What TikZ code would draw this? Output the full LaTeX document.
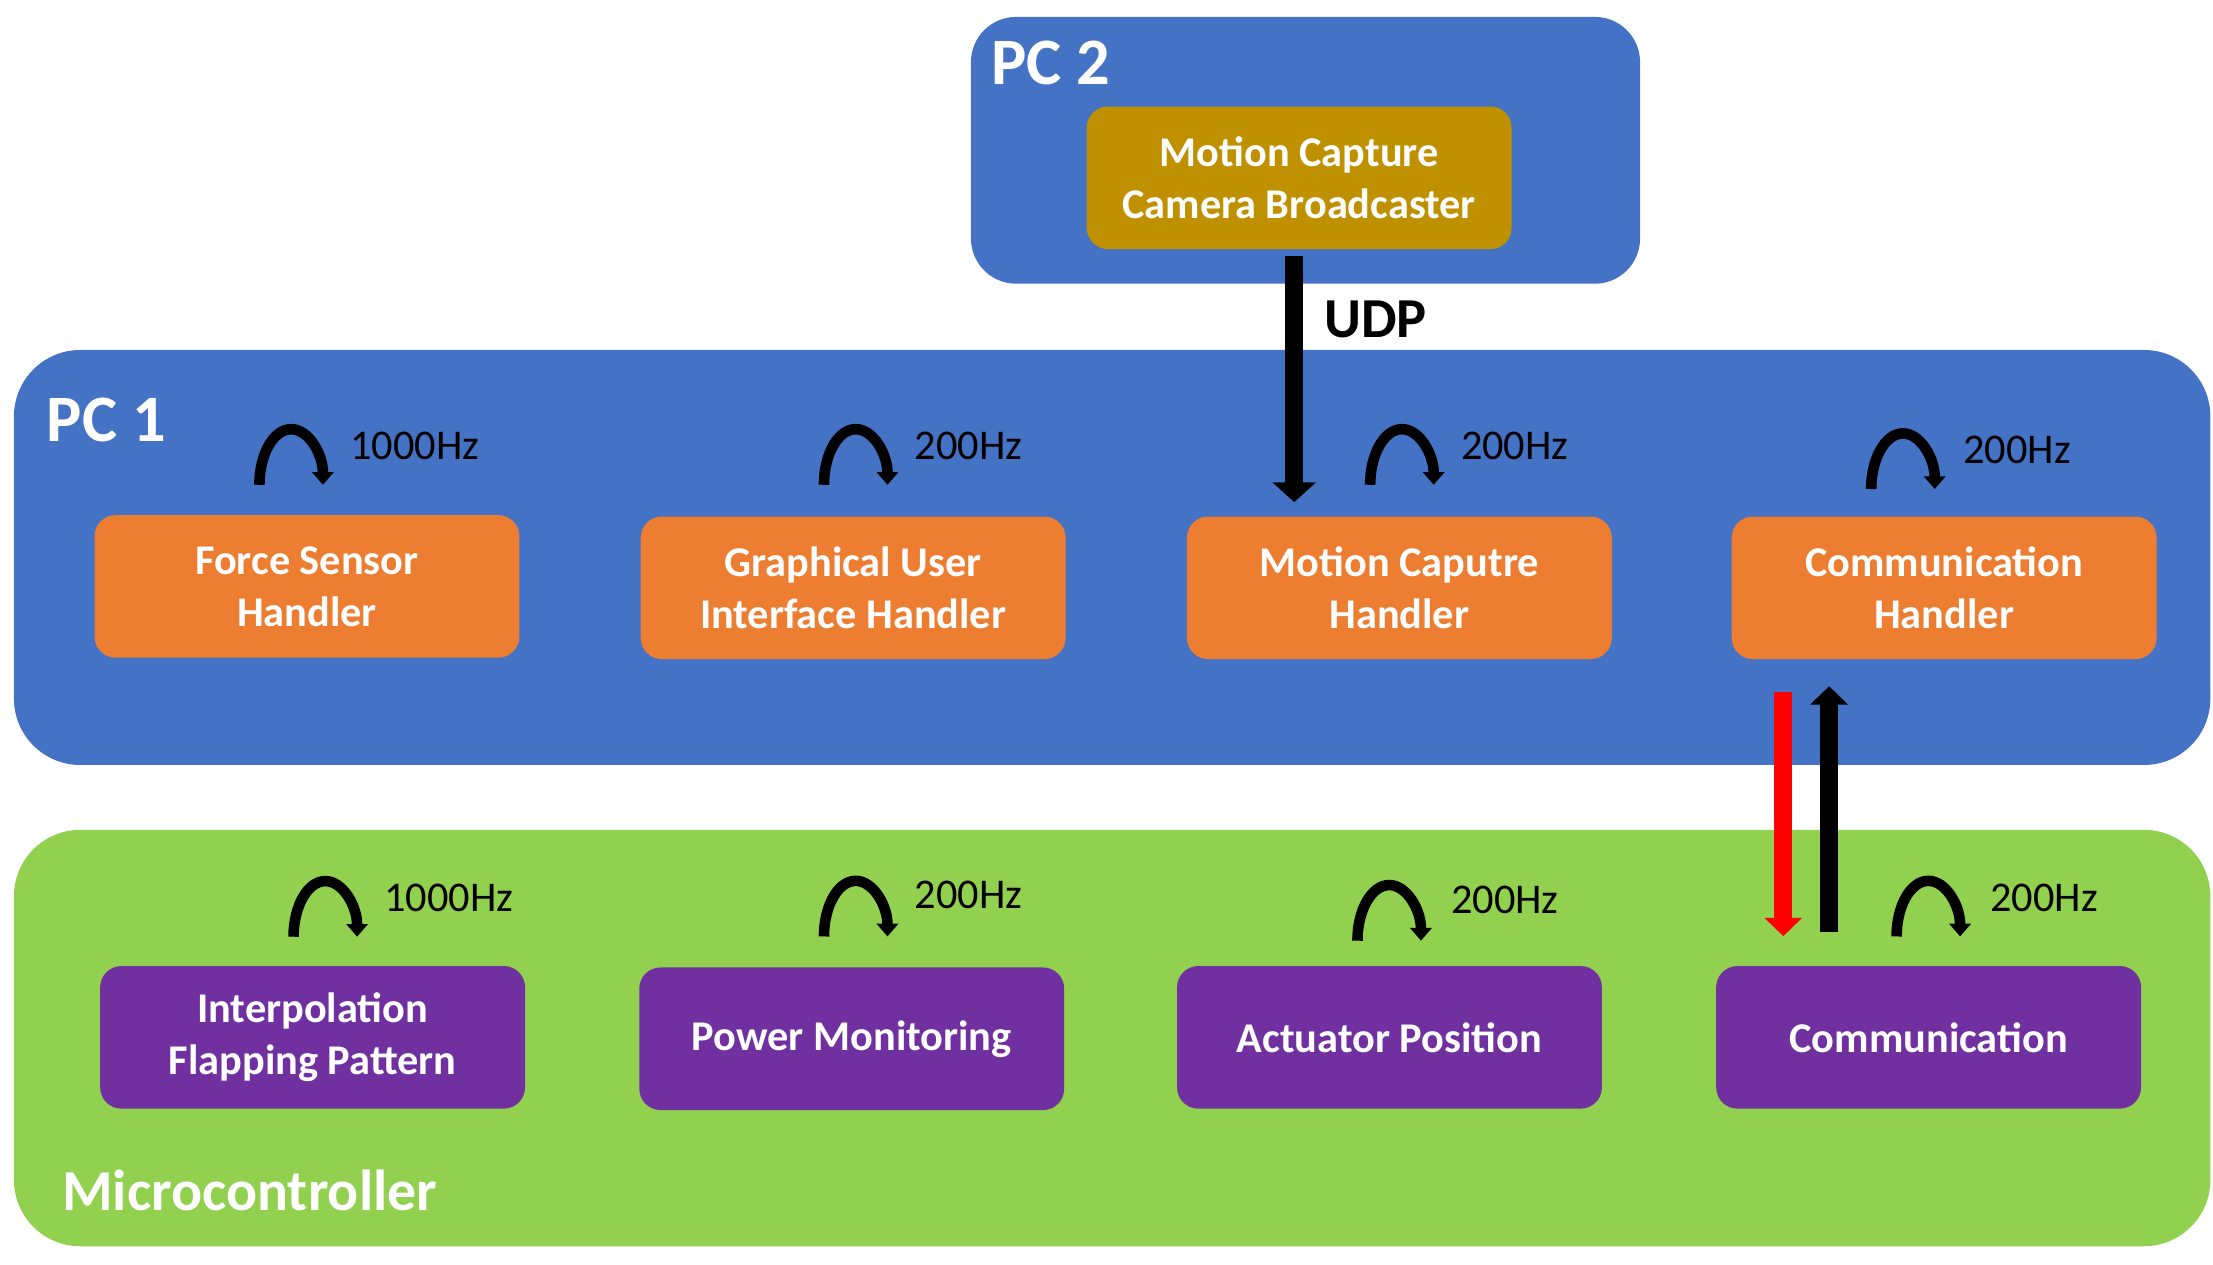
\documentclass[tikz,border=0pt]{standalone}
\usepackage{fontspec}
\setmainfont{Carlito}
\usepackage{tikz}
\usepackage{xcolor}
\usetikzlibrary{math,arrows.meta}

\definecolor{pcblue}{HTML}{4472C4}
\definecolor{taskorange}{HTML}{ED7D31}
\definecolor{camgold}{HTML}{BF9000}
\definecolor{mcupurple}{HTML}{7030A0}
\definecolor{mcugreen}{HTML}{92D050}

\tikzset{
region/.style={fill=#1, rounded corners=47pt, inner sep=0pt},
task/.style={fill=#1, rounded corners=15pt, minimum width=301pt, minimum height=101pt, inner sep=0pt, text=white, align=center, font=\fontsize{30}{37}\selectfont\bfseries},
regionlabel/.style={text=white, anchor=base west, inner sep=0pt, font=\fontsize{47}{56}\selectfont\bfseries},
rate/.style={anchor=base west, inner sep=0pt, font=\fontsize{30}{36}\selectfont},
cyclearrow/.style={line width=7.5pt, -{Triangle[width=15pt,length=9pt]}},
udparrow/.style={line width=13pt, -{Triangle[width=30pt,length=14pt]}},
linkarrow/.style={line width=13pt, draw=#1, -{Triangle[width=26pt,length=13pt,fill=#1]}}
}

\begin{document}
\begin{tikzpicture}

\tikzmath{
\scale = 0.0351459;
}

\useasboundingbox (0*\scale,0*\scale) rectangle (1568*\scale,896*\scale);

% regions
\node[region=pcblue, rounded corners=32pt, minimum width=474pt, minimum height=189pt] (pc2) at (925*\scale,789.5*\scale) {};
\node[region=pcblue, minimum width=1556pt, minimum height=294pt] (pc1) at (788*\scale,501*\scale) {};
\node[region=mcugreen, minimum width=1556pt, minimum height=295pt] (mcu) at (788*\scale,160.5*\scale) {};

\node[regionlabel] (pc2lbl) at (702*\scale,836*\scale) {PC 2};
\node[regionlabel] (pc1lbl) at (33*\scale,583*\scale) {PC 1};
\node[regionlabel, font=\fontsize{41}{49}\selectfont\bfseries] (mculbl) at (44*\scale,38.5*\scale) {Microcontroller};

% tasks
\node[task=camgold] (mcb) at (920.5*\scale,770*\scale) {Motion Capture\\Camera Broadcaster};

\node[task=taskorange] (fsh) at (217.5*\scale,480.5*\scale) {Force Sensor\\Handler};
\node[task=taskorange] (guih) at (604.5*\scale,479.5*\scale) {Graphical User\\Interface Handler};
\node[task=taskorange] (mch) at (991.5*\scale,479.5*\scale) {Motion Caputre\\Handler};
\node[task=taskorange] (comh) at (1377.5*\scale,479.5*\scale) {Communication\\Handler};

\node[task=mcupurple] (ifp) at (221.5*\scale,161*\scale) {Interpolation\\Flapping Pattern};
\node[task=mcupurple] (pm) at (603.5*\scale,160*\scale) {Power Monitoring};
\node[task=mcupurple] (ap) at (984.5*\scale,161*\scale) {Actuator Position};
\node[task=mcupurple] (com) at (1366.5*\scale,161*\scale) {Communication};

% rates
\draw[cyclearrow] (183.8*\scale,552.5*\scale) arc[start angle=180, end angle=0, x radius=22.5pt, y radius=39.4pt];
\draw[cyclearrow] (583.8*\scale,552.5*\scale) arc[start angle=180, end angle=0, x radius=22.5pt, y radius=39.4pt];
\draw[cyclearrow] (970.8*\scale,552.5*\scale) arc[start angle=180, end angle=0, x radius=22.5pt, y radius=39.4pt];
\draw[cyclearrow] (1325.8*\scale,549.5*\scale) arc[start angle=180, end angle=0, x radius=22.5pt, y radius=39.4pt];
\draw[cyclearrow] (208*\scale,232.3*\scale) arc[start angle=180, end angle=0, x radius=22.5pt, y radius=39.4pt];
\draw[cyclearrow] (583.8*\scale,232.5*\scale) arc[start angle=180, end angle=0, x radius=22.5pt, y radius=39.4pt];
\draw[cyclearrow] (961.8*\scale,229.5*\scale) arc[start angle=180, end angle=0, x radius=22.5pt, y radius=39.4pt];
\draw[cyclearrow] (1343.8*\scale,232.5*\scale) arc[start angle=180, end angle=0, x radius=22.5pt, y radius=39.4pt];

\node[rate] (fshrate) at (248*\scale,570.5*\scale) {1000Hz};
\node[rate] (guihrate) at (648*\scale,570.5*\scale) {200Hz};
\node[rate] (mchrate) at (1035*\scale,570.5*\scale) {200Hz};
\node[rate] (comhrate) at (1391*\scale,567.5*\scale) {200Hz};
\node[rate] (ifprate) at (272*\scale,250.5*\scale) {1000Hz};
\node[rate] (pmrate) at (648*\scale,252.5*\scale) {200Hz};
\node[rate] (aprate) at (1028*\scale,248.5*\scale) {200Hz};
\node[rate] (comrate) at (1410*\scale,250.5*\scale) {200Hz};

% links
\coordinate (udpx) at (917*\scale,0*\scale);
\draw[udparrow, shorten <=5pt, shorten >=10pt] (mcb.south -| udpx) -- (mch.north -| udpx);
\node[regionlabel, text=black, font=\fontsize{40}{48}\selectfont\bfseries] (udp) at (938*\scale,657*\scale) {UDP};

\coordinate (downx) at (1263.5*\scale,0*\scale);
\coordinate (upx) at (1296*\scale,0*\scale);
\draw[linkarrow=red, shorten <=23pt, shorten >=21pt] (comh.south -| downx) -- (com.north -| downx);
\draw[linkarrow=black, shorten <=24pt, shorten >=19pt] (com.north -| upx) -- (comh.south -| upx);

\end{tikzpicture}
\end{document}
